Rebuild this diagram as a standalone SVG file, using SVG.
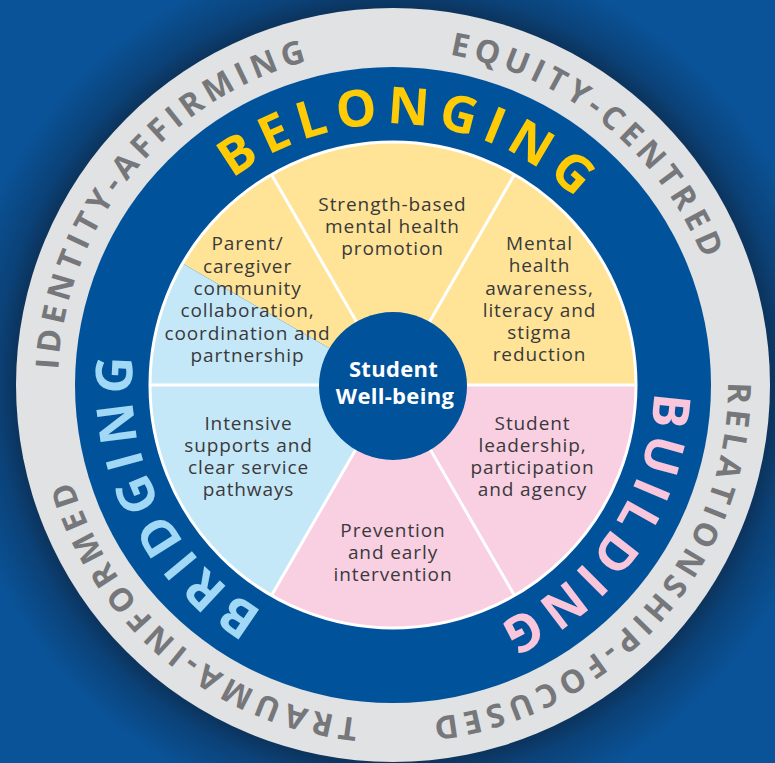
<svg xmlns="http://www.w3.org/2000/svg" width="775" height="763" viewBox="0 0 775 763">
<defs>
<radialGradient id="halo" cx="393" cy="385" r="440" gradientUnits="userSpaceOnUse">
<stop offset="0.84" stop-color="#0c2c4f" stop-opacity="0.95"/>
<stop offset="0.9" stop-color="#0c2c4f" stop-opacity="0.45"/>
<stop offset="1" stop-color="#0c2c4f" stop-opacity="0"/>
</radialGradient>
<path id="arcIn" d="M132,385 A261,261 0 1 1 654,385 A261,261 0 1 1 132,385 A261,261 0 1 1 654,385 A261,261 0 1 1 132,385"/>
<path id="arcOut" d="M58,385 A335,335 0 1 1 728,385 A335,335 0 1 1 58,385 A335,335 0 1 1 728,385 A335,335 0 1 1 58,385"/>
</defs>
<style>
.seg{font-family:"Open Sans","Liberation Sans",sans-serif;font-size:19px;letter-spacing:0.9px;fill:#3a393b;text-anchor:middle}
.ctr{font-family:"Open Sans","Liberation Sans",sans-serif;font-size:22px;font-weight:700;letter-spacing:0.3px;fill:#ffffff;text-anchor:middle}
.big{font-family:"Open Sans","Liberation Sans",sans-serif;font-size:51px;font-weight:700;text-anchor:middle}
.ring{font-family:"Open Sans","Liberation Sans",sans-serif;font-size:32px;font-weight:700;letter-spacing:5.2px;fill:#76777a;text-anchor:middle}
.div{stroke:#ffffff;stroke-width:3;fill:none}
</style>
<rect x="0" y="0" width="775" height="763" fill="#0a5398"/>
<circle cx="393" cy="385" r="440" fill="url(#halo)"/>

<g id="outer-ring">
<circle cx="393" cy="385" r="377" fill="#e1e2e3"/>
<text class="ring"><textPath href="#arcOut" startOffset="229.7">IDENTITY-AFFIRMING</textPath></text>
<text class="ring"><textPath href="#arcOut" startOffset="755.4">EQUITY-CENTRED</textPath></text>
<text class="ring"><textPath href="#arcOut" startOffset="1296.2">RELATIONSHIP-FOCUSED</textPath></text>
<text class="ring"><textPath href="#arcOut" startOffset="1812.2">TRAUMA-INFORMED</textPath></text>
</g>

<g id="middle-ring">
<circle cx="393" cy="385" r="318" fill="#00529b"/>
<text class="big" fill="#ffcb05" letter-spacing="8.5"><textPath href="#arcIn" startOffset="428.5">BELONGING</textPath></text>
<text class="big" fill="#a0d8f5" letter-spacing="6.7"><textPath href="#arcIn" startOffset="1519.5">BRIDGING</textPath></text>
<text class="big" fill="#f9c6dc" letter-spacing="6.1"><textPath href="#arcIn" startOffset="976.7">BUILDING</textPath></text>
</g>

<g id="seg-strength">
<path d="M393,385 L514.5,174.56 A243,243 0 0 0 271.5,174.56 Z" fill="#ffe497"/>
<text class="seg"><tspan x="392.5" y="211">Strength-based</tspan><tspan x="392.5" y="233">mental health</tspan><tspan x="392.5" y="255">promotion</tspan></text>
</g>

<g id="seg-awareness">
<path d="M393,385 L636,385 A243,243 0 0 0 514.5,174.56 Z" fill="#ffe497"/>
<text class="seg"><tspan x="539.5" y="250">Mental</tspan><tspan x="539.5" y="272">health</tspan><tspan x="539.5" y="294.5">awareness,</tspan><tspan x="539.5" y="317">literacy and</tspan><tspan x="539.5" y="339">stigma</tspan><tspan x="539.5" y="361">reduction</tspan></text>
</g>

<g id="seg-partnership">
<path d="M393,385 L271.5,174.56 A243,243 0 0 0 182.56,263.5 Z" fill="#ffe497"/>
<path d="M393,385 L182.56,263.5 A243,243 0 0 0 150,385 Z" fill="#c5e8f8"/>
<text class="seg"><tspan x="247.5" y="250">Parent/</tspan><tspan x="247.5" y="272.5">caregiver</tspan><tspan x="247.5" y="295">community</tspan><tspan x="247.5" y="317">collaboration,</tspan><tspan x="247.5" y="339.5">coordination and</tspan><tspan x="247.5" y="362">partnership</tspan></text>
</g>

<g id="seg-intensive">
<path d="M393,385 L150,385 A243,243 0 0 0 271.5,595.44 Z" fill="#c5e8f8"/>
<text class="seg"><tspan x="248.5" y="430">Intensive</tspan><tspan x="248.5" y="452">supports and</tspan><tspan x="248.5" y="474">clear service</tspan><tspan x="248.5" y="496">pathways</tspan></text>
</g>

<g id="seg-prevention">
<path d="M393,385 L271.5,595.44 A243,243 0 0 0 514.5,595.44 Z" fill="#f9cfe2"/>
<text class="seg"><tspan x="393" y="537">Prevention</tspan><tspan x="393" y="559">and early</tspan><tspan x="393" y="581">intervention</tspan></text>
</g>

<g id="seg-leadership">
<path d="M393,385 L514.5,595.44 A243,243 0 0 0 636,385 Z" fill="#f9cfe2"/>
<text class="seg"><tspan x="532.5" y="430">Student</tspan><tspan x="532.5" y="452">leadership,</tspan><tspan x="532.5" y="474">participation</tspan><tspan x="532.5" y="496">and agency</tspan></text>
</g>

<g id="connectors">
<circle class="div" cx="393" cy="385" r="243"/>
<line class="div" x1="393" y1="385" x2="636" y2="385"/>
<line class="div" x1="393" y1="385" x2="150" y2="385"/>
<line class="div" x1="393" y1="385" x2="514.5" y2="174.56"/>
<line class="div" x1="393" y1="385" x2="271.5" y2="174.56"/>
<line class="div" x1="393" y1="385" x2="271.5" y2="595.44"/>
<line class="div" x1="393" y1="385" x2="514.5" y2="595.44"/>
</g>

<g id="center">
<circle cx="393" cy="386" r="74" fill="#00529b"/>
<text class="ctr"><tspan x="393.5" y="376.5">Student</tspan><tspan x="395" y="403.5">Well-being</tspan></text>
</g>
</svg>
